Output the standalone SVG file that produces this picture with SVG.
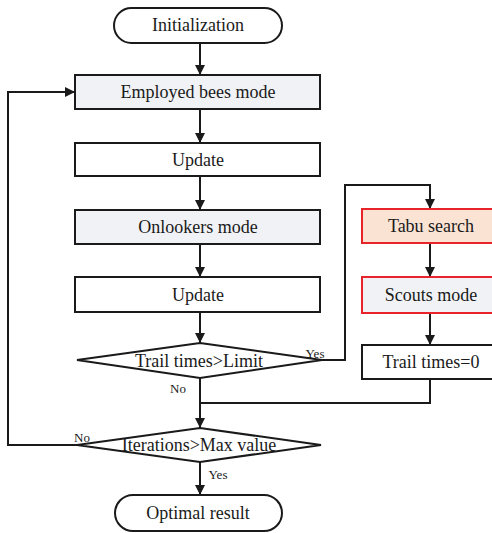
<svg xmlns="http://www.w3.org/2000/svg" width="492" height="533" viewBox="0 0 492 533">
<style>
text{font-family:"Liberation Serif","Times New Roman",serif;fill:#1a1a1a;text-anchor:middle}
.t{font-size:18px}
.s{font-size:13px}
.box{stroke:#1a1a1a;stroke-width:2;fill:#fff}
.gray{fill:#f1f2f5}
.red{stroke:#e8242a}
.peach{fill:#fbe3d4}
.ln{stroke:#1a1a1a;stroke-width:2;fill:none}
</style>
<defs>
<marker id="ah" viewBox="0 0 10 10" refX="10" refY="5" markerWidth="10" markerHeight="11" markerUnits="userSpaceOnUse" orient="auto">
<path d="M0,0 L10,5 L0,10 z" fill="#1a1a1a"/>
</marker>
</defs>
<g id="connectors">
<line class="ln" x1="200" y1="43" x2="200" y2="75" marker-end="url(#ah)"/>
<line class="ln" x1="200" y1="109" x2="200" y2="143" marker-end="url(#ah)"/>
<line class="ln" x1="200" y1="176" x2="200" y2="210" marker-end="url(#ah)"/>
<line class="ln" x1="200" y1="244" x2="200" y2="277" marker-end="url(#ah)"/>
<line class="ln" x1="200" y1="312" x2="200" y2="343" marker-end="url(#ah)"/>
<polyline class="ln" points="322,360 345,360 345,185 430,185 430,209" marker-end="url(#ah)"/>
<line class="ln" x1="430" y1="243" x2="430" y2="277" marker-end="url(#ah)"/>
<line class="ln" x1="430" y1="313" x2="430" y2="345" marker-end="url(#ah)"/>
<polyline class="ln" points="430,379 430,403 200,403"/>
<line class="ln" x1="200" y1="378" x2="200" y2="428" marker-end="url(#ah)"/>
<polyline class="ln" points="77,445 8,445 8,92 75,92" marker-end="url(#ah)"/>
<line class="ln" x1="200" y1="462" x2="200" y2="495" marker-end="url(#ah)"/>
</g>
<g id="init"><rect class="box" x="114" y="8" width="168" height="35" rx="17.5"/><text class="t" x="198" y="31">Initialization</text></g>
<g id="employed"><rect class="box gray" x="75" y="75" width="245" height="34"/><text class="t" x="198" y="98">Employed bees mode</text></g>
<g id="update1"><rect class="box" x="75" y="143" width="245" height="33"/><text class="t" x="198" y="166">Update</text></g>
<g id="onlookers"><rect class="box gray" x="75" y="210" width="245" height="34"/><text class="t" x="198" y="233">Onlookers mode</text></g>
<g id="update2"><rect class="box" x="75" y="277" width="245" height="35"/><text class="t" x="198" y="301">Update</text></g>
<g id="decision1"><polygon class="box" points="200,343 322,360 200,378 77,360"/><text class="t" x="199" y="367">Trail times&gt;Limit</text></g>
<g id="tabu"><rect class="box red peach" x="362" y="209" width="138" height="34"/><text class="t" x="431" y="232">Tabu search</text></g>
<g id="scouts"><rect class="box red gray" x="362" y="277" width="138" height="36"/><text class="t" x="431" y="301">Scouts mode</text></g>
<g id="reset"><rect class="box" x="362" y="345" width="138" height="34"/><text class="t" x="431" y="368">Trail times=0</text></g>
<g id="decision2"><polygon class="box" points="200,428 321,445 200,462 77,445"/><text class="t" x="199" y="451">Iterations&gt;Max value</text></g>
<g id="result"><rect class="box" x="115" y="495" width="167" height="36" rx="18"/><text class="t" x="198" y="519">Optimal result</text></g>
<g id="labels">
<text class="s" x="315" y="358">Yes</text>
<text class="s" x="178" y="393">No</text>
<text class="s" x="82" y="442">No</text>
<text class="s" x="218" y="479">Yes</text>
</g>
</svg>
